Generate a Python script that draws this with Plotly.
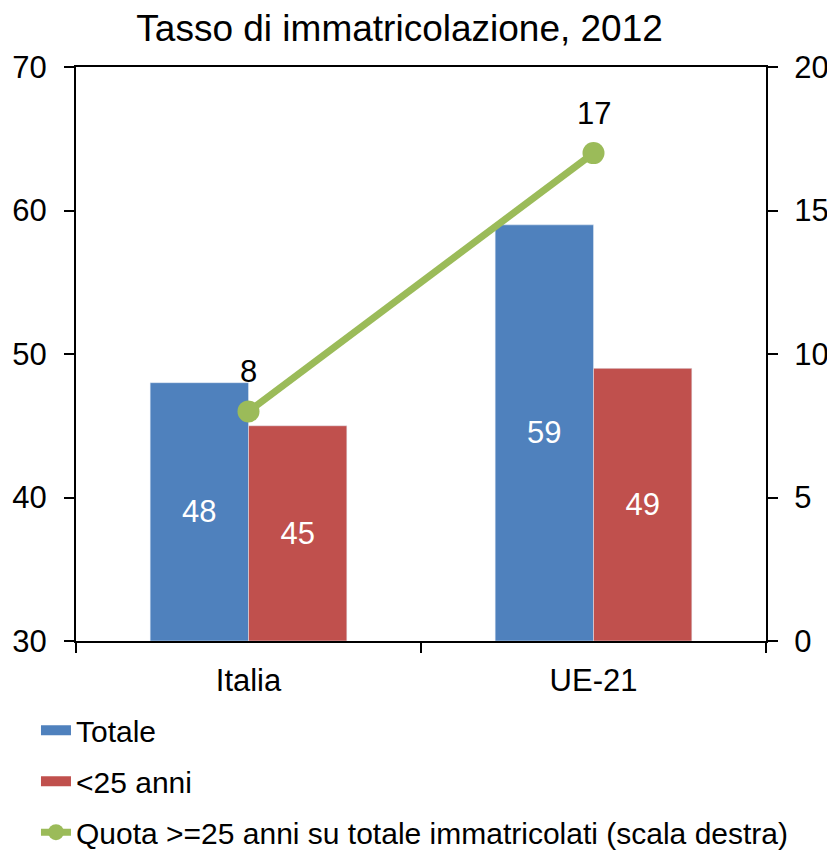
import plotly.graph_objects as go

categories = ["Italia", "UE-21"]
totale = [48, 59]
under25 = [45, 49]
quota_over25 = [8, 17]

Y_MIN, Y_MAX = 30, 70
FONT = "Liberation Sans, Arial, sans-serif"
BLUE = "#4F81BD"
RED = "#C0504D"
GREEN = "#9BBB59"

fig = go.Figure()
# bars start at the axis floor so the value labels sit in the visible middle
fig.add_trace(go.Bar(
    x=categories, y=[v - Y_MIN for v in totale], base=Y_MIN, name="Totale",
    marker_color=BLUE, showlegend=False,
    text=totale, textposition="inside", insidetextanchor="middle",
    textfont=dict(color="white", size=31, family=FONT),
))
fig.add_trace(go.Bar(
    x=categories, y=[v - Y_MIN for v in under25], base=Y_MIN, name="<25 anni",
    marker_color=RED, showlegend=False,
    text=under25, textposition="inside", insidetextanchor="middle",
    textfont=dict(color="white", size=31, family=FONT),
))
fig.add_trace(go.Scatter(
    x=categories, y=quota_over25, yaxis="y2", mode="lines+markers",
    name="Quota >=25 anni su totale immatricolati (scala destra)",
    line=dict(color=GREEN, width=7), marker=dict(color=GREEN, size=22),
    legendgroup="c", legendrank=3,
))
# legend-only entries so the bar swatches look like wide blocks
for name, color, rank in [("Totale", BLUE, 1), ("<25 anni", RED, 2)]:
    fig.add_trace(go.Scatter(
        x=[None], y=[None], mode="lines", name=name,
        line=dict(color=color, width=18), legendgroup=name, legendrank=rank,
    ))

for cat, val in zip(categories, quota_over25):
    fig.add_annotation(x=cat, y=val, yref="y2", text=str(val), showarrow=False,
                       yshift=40, font=dict(size=31, color="black"))

axis_style = dict(showline=True, linecolor="black", linewidth=2,
                  ticks="outside", ticklen=10, tickwidth=2, tickcolor="black",
                  showgrid=False, zeroline=False)

fig.update_layout(
    width=835, height=855,
    margin=dict(l=68, r=77, t=59, b=222, autoexpand=False),
    paper_bgcolor="white", plot_bgcolor="white",
    font=dict(family=FONT, size=31, color="black"),
    title=dict(text="Tasso di immatricolazione, 2012", x=0.469, xanchor="center",
               y=0.977, yanchor="middle", font=dict(size=37)),
    barmode="group", bargap=0.43, bargroupgap=0,
    showlegend=True,
    legend=dict(x=-0.058, xanchor="left", y=-0.11, yanchor="top",
                orientation="v", font=dict(size=30), tracegroupgap=9,
                itemwidth=30, bgcolor="rgba(0,0,0,0)"),
    xaxis=dict(**axis_style, tickson="boundaries", mirror=True,
               ticklabelstandoff=11),
    yaxis=dict(**axis_style, range=[Y_MIN, Y_MAX], dtick=10,
               ticklabelstandoff=11),
    yaxis2=dict(**axis_style, range=[0, 20], dtick=5, overlaying="y",
                side="right", ticklabelstandoff=10),
)

fig.write_html("out.html")
